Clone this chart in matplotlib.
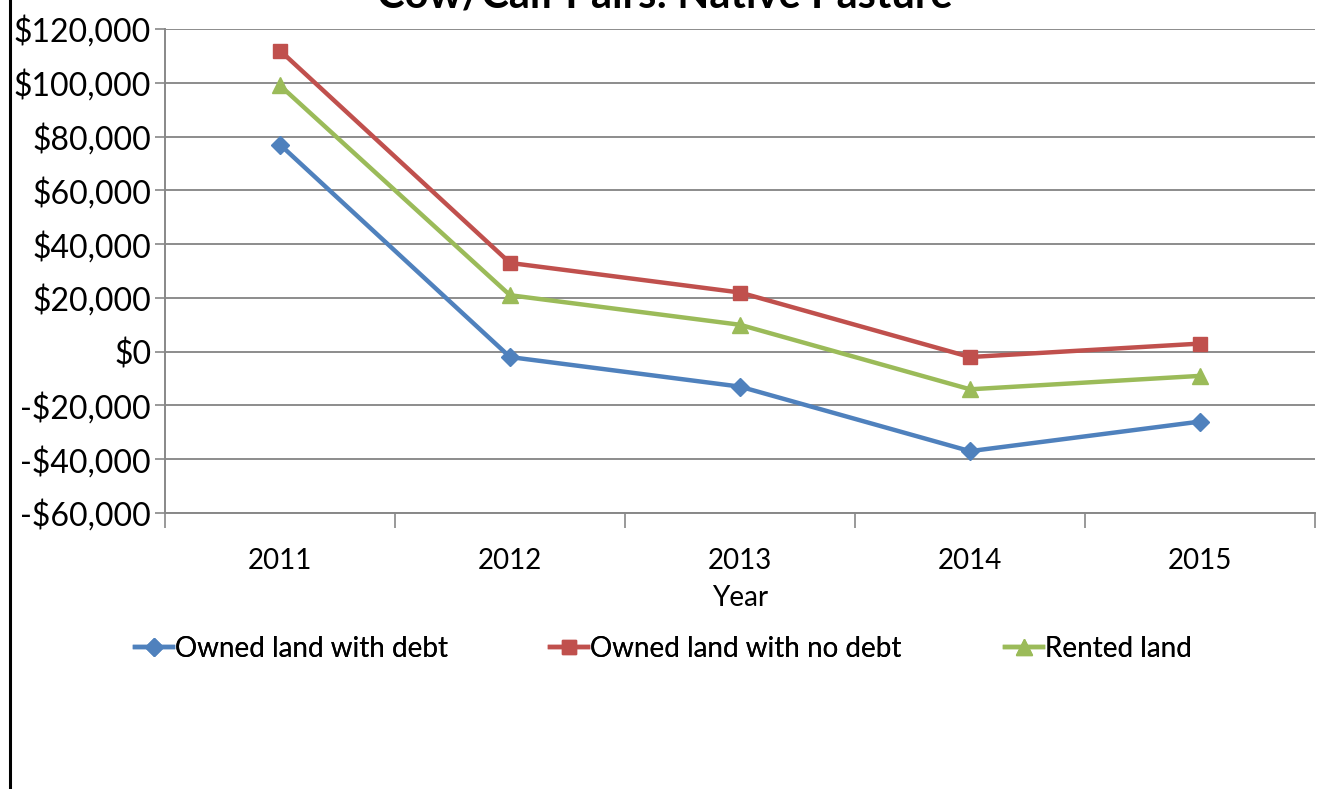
import matplotlib
matplotlib.use("Agg")
from matplotlib import pyplot as plt
from matplotlib.lines import Line2D
from matplotlib.ticker import FuncFormatter, FixedLocator

plt.rcParams['font.family'] = ['Lato', 'DejaVu Sans']

years = ['2011', '2012', '2013', '2014', '2015']
with_debt = [77000, -2000, -13000, -37000, -26000]
no_debt = [112000, 33000, 22000, -2000, 3000]
rented = [99000, 21000, 10000, -14000, -9000]

series_names = ['Owned land with debt', 'Owned land with no debt', 'Rented land']
colors = ['#4F81BD', '#C0504D', '#9BBB59']
markers = ['D', 's', '^']
msizes = [9, 10, 11]

fig = plt.figure(figsize=(13.22, 7.89), dpi=100)
ax = fig.add_axes([165 / 1322, 1 - 513 / 789, 1150 / 1322, 484 / 789])

x = list(range(len(years)))
handles = []
for vals, name, c, m, ms in zip([with_debt, no_debt, rented], series_names, colors, markers, msizes):
    h, = ax.plot(x, vals, color=c, lw=3.2, marker=m, markersize=ms, label=name,
                 markeredgecolor=c, zorder=3)
    handles.append(h)

ax.set_xlim(-0.5, 4.5)
ax.set_ylim(-60000, 120000)
ax.set_yticks(range(-60000, 120001, 20000))


def money(v, pos):
    v = int(v)
    if v < 0:
        return '-${:,}'.format(-v)
    return '${:,}'.format(v)


ax.yaxis.set_major_formatter(FuncFormatter(money))
ax.tick_params(axis='y', labelsize=23, length=7, width=1.2, color='#888888', pad=3)

# category labels centred, tick marks on boundaries
ax.set_xticks(x)
ax.set_xticklabels(years)
ax.xaxis.set_minor_locator(FixedLocator([i - 0.5 for i in range(len(years) + 1)]))
ax.tick_params(axis='x', which='major', length=0, labelsize=20, pad=25)
ax.tick_params(axis='x', which='minor', length=11, width=1.2, color='#888888')

ax.grid(axis='y', color='#8c8c8c', lw=1.4)
ax.set_axisbelow(True)
for side in ['top', 'right']:
    ax.spines[side].set_visible(False)
for side in ['left', 'bottom']:
    ax.spines[side].set_color('#888888')
    ax.spines[side].set_linewidth(1.4)

ax.set_xlabel('Year', fontsize=20, labelpad=8)

fig.text(0.503, 1 - 7 / 789, 'Cow/Calf Pairs: Native Pasture', ha='center', va='baseline',
         fontsize=30, fontweight='bold')

# one legend entry per slot along the bottom
for h, name, left in zip(handles, series_names, [135, 550, 1005]):
    lg = fig.legend([h], [name], loc='center left', bbox_to_anchor=(left / 1322, 1 - 649 / 789),
                    frameon=False, fontsize=20, handlelength=1.35, handletextpad=0.1,
                    borderpad=0, borderaxespad=0)
    fig.add_artist(lg)

fig.add_artist(Line2D([10 / 1322, 10 / 1322], [0, 1], color='black', lw=2.2,
                      transform=fig.transFigure))

fig.savefig('out.png', dpi=100)
